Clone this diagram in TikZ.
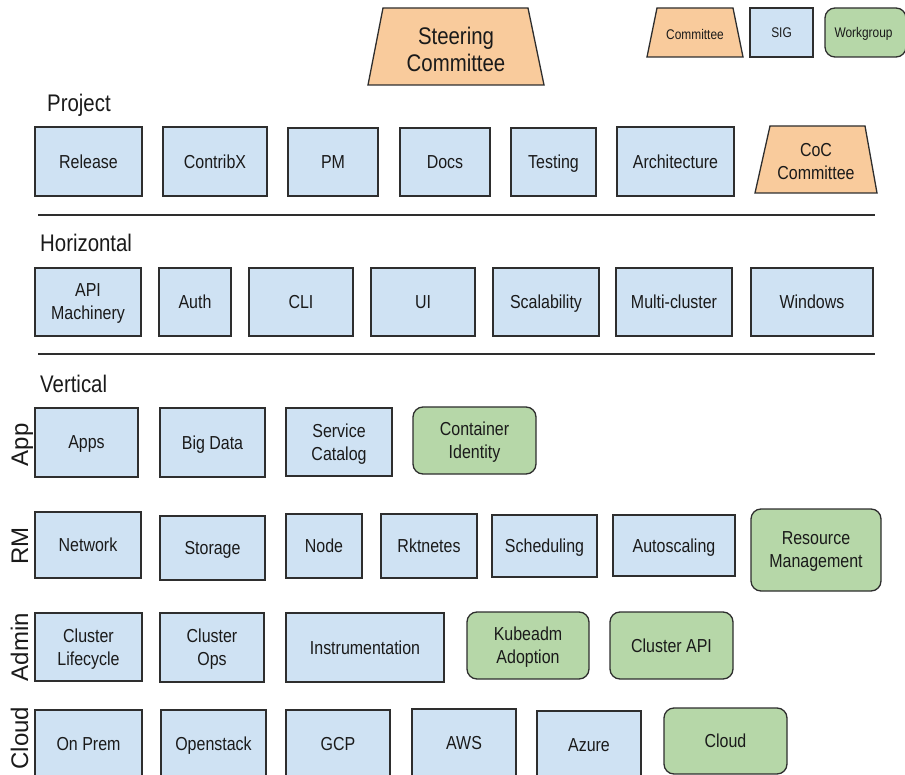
\documentclass[tikz,border=0pt]{standalone}
\usepackage{fontspec}
\setmainfont[FakeStretch=0.85]{Liberation Sans}
\newfontfamily\sidefont{Liberation Sans}
\definecolor{sigblue}{HTML}{CFE2F3}
\definecolor{comorange}{HTML}{F9CB9C}
\definecolor{wggreen}{HTML}{B6D7A8}
\definecolor{edge}{HTML}{2E2E2E}
\definecolor{txt}{HTML}{1A1A1A}
\tikzset{
  base/.style={draw=edge, line width=1.3pt, text=txt, align=center, inner sep=0pt,
    text depth=0pt, font=\fontsize{18.8}{23}\selectfont},
  sig/.style={base, fill=sigblue},
  wg/.style={base, fill=wggreen, rounded corners=10pt},
  comm/.style={draw=edge, line width=1.3pt, fill=comorange},
  ctext/.style={text=txt, align=center, inner sep=0pt, text depth=0pt},
  section/.style={anchor=base west, text=txt, inner sep=0pt, font=\fontsize{24}{28}\selectfont},
  side/.style={anchor=base, rotate=90, text=txt, inner sep=0pt, font=\sidefont\fontsize{24}{28}\selectfont},
  rule/.style={draw=edge, line width=1.5pt}
}
\newcommand\mybox[7]{%
  \node[#6, minimum width={#4-#2}, minimum height={#5-#3}] (#1) at ({(#2+#4)/2},{(#3+#5)/2}) {#7};}
\begin{document}
\begin{tikzpicture}[x=1pt,y=-1pt]
\useasboundingbox (0,0) rectangle (905,775);
\clip (0,0) rectangle (905,775);
% Steering committee
\draw[comm] (383,8) -- (528,8) -- (544,85) -- (368,85) -- cycle;
\node[ctext, font=\fontsize{24}{27}\selectfont] (steer) at (456,49) {Steering\\Committee};
% Legend
\draw[comm] (657,8) -- (733,8) -- (743,57) -- (647,57) -- cycle;
\node[ctext, font=\fontsize{14}{16}\selectfont] (legcom) at (695,34) {Committee};
\mybox{legsig}{750}{8}{813}{57}{sig, font=\fontsize{14}{16}\selectfont}{SIG}
\mybox{legwg}{825}{8}{906}{57}{wg, font=\fontsize{14}{16}\selectfont}{\hspace*{-4pt}Workgroup}
% Project
\node[section] (project) at (47,112) {Project};
\mybox{release}{35}{127}{142}{196}{sig}{Release}
\mybox{contribx}{163}{127}{267}{196}{sig}{ContribX}
\mybox{pm}{288}{128}{378}{196}{sig}{PM}
\mybox{docs}{400}{128}{490}{196}{sig}{Docs}
\mybox{testing}{511}{128}{596}{196}{sig}{Testing}
\mybox{arch}{617}{127}{734}{196}{sig}{Architecture}
\draw[comm] (770,126) -- (865,126) -- (877,193) -- (755,193) -- cycle;
\node[ctext, font=\fontsize{18.8}{23}\selectfont] (coc) at (816,161) {CoC\\Committee};
\draw[rule] (38,215) -- (875,215);
% Horizontal
\node[section] (horizontal) at (40,252) {Horizontal};
\mybox{apim}{35}{268}{141}{336}{sig}{API\\Machinery}
\mybox{auth}{159}{268}{231}{336}{sig}{Auth}
\mybox{cli}{249}{268}{353}{336}{sig}{CLI}
\mybox{ui}{371}{268}{475}{336}{sig}{UI}
\mybox{scal}{493}{268}{599}{336}{sig}{Scalability}
\mybox{multi}{616}{268}{732}{336}{sig}{Multi-cluster}
\mybox{windows}{751}{268}{873}{336}{sig}{Windows}
\draw[rule] (38,354) -- (875,354);
% Vertical
\node[section] (vertical) at (40,392) {Vertical};
\node[side] (lapp) at (28,445) {App};
\mybox{apps}{35}{408}{138}{477}{sig}{Apps}
\mybox{bigdata}{160}{408}{265}{477}{sig}{Big Data}
\mybox{svccat}{286}{408}{392}{476}{sig}{Service\\Catalog}
\mybox{contid}{413}{407}{536}{474}{wg}{Container\\Identity}
\node[side] (lrm) at (28,546) {RM};
\mybox{network}{35}{512}{141}{578}{sig}{Network}
\mybox{storage}{160}{516}{265}{580}{sig}{Storage}
\mybox{node}{286}{514}{362}{578}{sig}{Node}
\mybox{rkt}{381}{514}{477}{578}{sig}{Rktnetes}
\mybox{sched}{492}{515}{597}{577}{sig}{Scheduling}
\mybox{autosc}{613}{515}{735}{576}{sig}{Autoscaling}
\mybox{resmgmt}{751}{509}{881}{591}{wg}{Resource\\Management}
\node[side] (ladmin) at (28,647) {Admin};
\mybox{cluslc}{35}{613}{142}{681}{sig}{Cluster\\Lifecycle}
\mybox{clusops}{160}{613}{264}{682}{sig}{Cluster\\Ops}
\mybox{instr}{286}{613}{444}{682}{sig}{Instrumentation}
\mybox{kubeadm}{467}{612}{589}{679}{wg}{Kubeadm\\Adoption}
\mybox{clusapi}{610}{612}{733}{679}{wg}{Cluster API}
\node[side] (lcloud) at (28,738) {Cloud};
\mybox{onprem}{35}{710}{142}{777}{sig}{On Prem}
\mybox{openstack}{161}{710}{266}{777}{sig}{Openstack}
\mybox{gcp}{286}{710}{390}{777}{sig}{GCP}
\mybox{aws}{412}{709}{516}{777}{sig}{AWS}
\mybox{azure}{537}{711}{641}{779}{sig}{Azure}
\mybox{cloud}{664}{708}{787}{774}{wg}{Cloud}
\end{tikzpicture}
\end{document}
